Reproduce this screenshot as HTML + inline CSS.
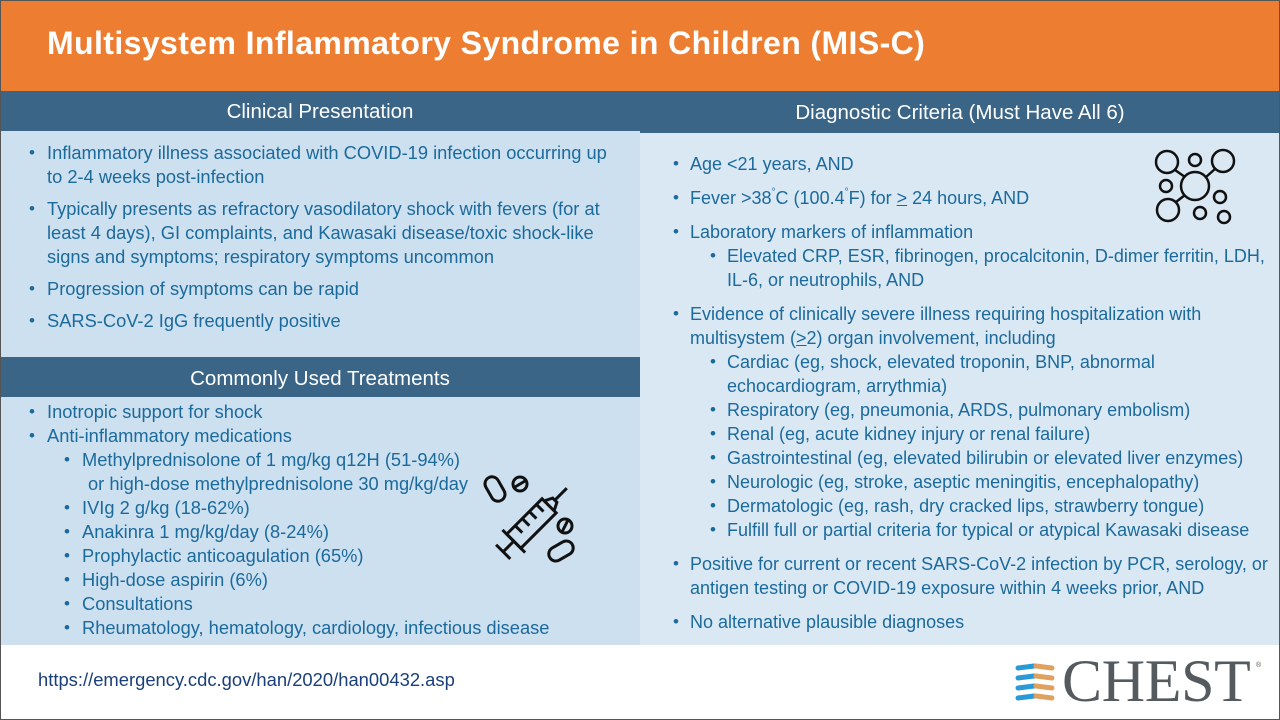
<!DOCTYPE html>
<html><head><meta charset="utf-8"><style>
*{margin:0;padding:0;box-sizing:border-box}
body{width:1280px;height:720px;position:relative;overflow:hidden;background:#fff;font-family:"Liberation Sans",sans-serif}
.a{position:absolute}
.l{position:absolute;white-space:nowrap;font-size:18.3px;line-height:24px;color:#1b6a9c}
.r{font-size:18px}
.b{position:absolute;font-size:17px;line-height:24px;color:#1b6a9c}
.h{position:absolute;color:#fff;font-size:20.5px;text-align:center;line-height:40px}
sup{font-size:10px;vertical-align:top;line-height:14px}
</style></head><body>
<div class="a" style="left:0;top:0;width:1280px;height:91px;background:#ed7d31"></div>
<div class="a" style="left:47px;top:25px;color:#fff;font-size:32px;font-weight:bold;white-space:nowrap;letter-spacing:0.4px">Multisystem Inflammatory Syndrome in Children (MIS-C)</div>
<div class="a" style="left:0;top:91px;width:640px;height:40px;background:#3a6587"></div>
<div class="h" style="left:0;top:92px;width:640px">Clinical Presentation</div>
<div class="a" style="left:640px;top:91px;width:640px;height:42px;background:#3a6587"></div>
<div class="h" style="left:640px;top:93px;width:640px">Diagnostic Criteria (Must Have All 6)</div>
<div class="a" style="left:0;top:131px;width:640px;height:226px;background:#cde0f0"></div>
<div class="a" style="left:0;top:357px;width:640px;height:40px;background:#3a6587"></div>
<div class="h" style="left:0;top:359px;width:640px">Commonly Used Treatments</div>
<div class="a" style="left:0;top:397px;width:640px;height:248px;background:#cde0f0"></div>
<div class="a" style="left:640px;top:133px;width:640px;height:512px;background:#dae8f4"></div>

<div class="b" style="left:29px;top:141px">•</div><div class="l" style="left:47px;top:141px">Inflammatory illness associated with COVID-19 infection occurring up</div>
<div class="l" style="left:47px;top:165px">to 2-4 weeks post-infection</div>
<div class="b" style="left:29px;top:197px">•</div><div class="l" style="left:47px;top:197px">Typically presents as refractory vasodilatory shock with fevers (for at</div>
<div class="l" style="left:47px;top:221px">least 4 days), GI complaints, and Kawasaki disease/toxic shock-like</div>
<div class="l" style="left:47px;top:245px">signs and symptoms; respiratory symptoms uncommon</div>
<div class="b" style="left:29px;top:277px">•</div><div class="l" style="left:47px;top:277px">Progression of symptoms can be rapid</div>
<div class="b" style="left:29px;top:309px">•</div><div class="l" style="left:47px;top:309px">SARS-CoV-2 IgG frequently positive</div>

<div class="b" style="left:29px;top:400px">•</div><div class="l" style="left:47px;top:400px">Inotropic support for shock</div>
<div class="b" style="left:29px;top:424px">•</div><div class="l" style="left:47px;top:424px">Anti-inflammatory medications</div>
<div class="b" style="left:64px;top:448px">•</div><div class="l" style="left:82px;top:448px">Methylprednisolone of 1 mg/kg q12H (51-94%)</div>
<div class="l" style="left:88px;top:472px">or high-dose methylprednisolone 30 mg/kg/day</div>
<div class="b" style="left:64px;top:496px">•</div><div class="l" style="left:82px;top:496px">IVIg 2 g/kg (18-62%)</div>
<div class="b" style="left:64px;top:520px">•</div><div class="l" style="left:82px;top:520px">Anakinra 1 mg/kg/day (8-24%)</div>
<div class="b" style="left:64px;top:544px">•</div><div class="l" style="left:82px;top:544px">Prophylactic anticoagulation (65%)</div>
<div class="b" style="left:64px;top:568px">•</div><div class="l" style="left:82px;top:568px">High-dose aspirin (6%)</div>
<div class="b" style="left:64px;top:592px">•</div><div class="l" style="left:82px;top:592px">Consultations</div>
<div class="b" style="left:64px;top:616px">•</div><div class="l" style="left:82px;top:616px">Rheumatology, hematology, cardiology, infectious disease</div>

<svg class="a" style="left:480px;top:470px" width="110" height="100" viewBox="0 0 110 100" fill="none" stroke="#111" stroke-width="3">
<g transform="translate(55,50) rotate(-45)">
<rect x="-30" y="-10" width="50" height="20"/>
<line x1="-30" y1="-16" x2="-30" y2="16"/>
<line x1="-45" y1="0" x2="-30" y2="0"/>
<line x1="-45" y1="-10" x2="-45" y2="10"/>
<path d="M20 -7 L28 -3 L28 3 L20 7"/>
<line x1="28" y1="0" x2="45" y2="0"/>
<line x1="-18" y1="-10" x2="-18" y2="0"/><line x1="-8" y1="-10" x2="-8" y2="0"/><line x1="2" y1="-10" x2="2" y2="0"/><line x1="12" y1="-10" x2="12" y2="0"/>
</g>
<rect x="8" y="6" width="14" height="26" rx="7" transform="rotate(-30 15 19)"/>
<circle cx="40" cy="14" r="7"/><line x1="35" y1="17" x2="45" y2="11"/>
<circle cx="85" cy="56" r="7"/><line x1="82" y1="62" x2="88" y2="50"/>
<rect x="74" y="68" width="14" height="26" rx="7" transform="rotate(60 81 81)"/>
</svg>

<div class="b" style="left:673px;top:152px">•</div><div class="l r" style="left:690px;top:152px">Age &lt;21 years, AND</div>
<div class="b" style="left:673px;top:186px">•</div><div class="l r" style="left:690px;top:186px">Fever &gt;38<sup>°</sup>C (100.4<sup>°</sup>F) for <u>&gt;</u> 24 hours, AND</div>
<div class="b" style="left:673px;top:220px">•</div><div class="l r" style="left:690px;top:220px">Laboratory markers of inflammation</div>
<div class="b" style="left:710px;top:244px">•</div><div class="l r" style="left:727px;top:244px">Elevated CRP, ESR, fibrinogen, procalcitonin, D-dimer ferritin, LDH,</div>
<div class="l r" style="left:727px;top:268px">IL-6, or neutrophils, AND</div>
<div class="b" style="left:673px;top:302px">•</div><div class="l r" style="left:690px;top:302px">Evidence of clinically severe illness requiring hospitalization with</div>
<div class="l r" style="left:690px;top:326px">multisystem (<u>&gt;</u>2) organ involvement, including</div>
<div class="b" style="left:710px;top:350px">•</div><div class="l r" style="left:727px;top:350px">Cardiac (eg, shock, elevated troponin, BNP, abnormal</div>
<div class="l r" style="left:727px;top:374px">echocardiogram, arrythmia)</div>
<div class="b" style="left:710px;top:398px">•</div><div class="l r" style="left:727px;top:398px">Respiratory (eg, pneumonia, ARDS, pulmonary embolism)</div>
<div class="b" style="left:710px;top:422px">•</div><div class="l r" style="left:727px;top:422px">Renal (eg, acute kidney injury or renal failure)</div>
<div class="b" style="left:710px;top:446px">•</div><div class="l r" style="left:727px;top:446px">Gastrointestinal (eg, elevated bilirubin or elevated liver enzymes)</div>
<div class="b" style="left:710px;top:470px">•</div><div class="l r" style="left:727px;top:470px">Neurologic (eg, stroke, aseptic meningitis, encephalopathy)</div>
<div class="b" style="left:710px;top:494px">•</div><div class="l r" style="left:727px;top:494px">Dermatologic (eg, rash, dry cracked lips, strawberry tongue)</div>
<div class="b" style="left:710px;top:518px">•</div><div class="l r" style="left:727px;top:518px">Fulfill full or partial criteria for typical or atypical Kawasaki disease</div>
<div class="b" style="left:673px;top:552px">•</div><div class="l r" style="left:690px;top:552px">Positive for current or recent SARS-CoV-2 infection by PCR, serology, or</div>
<div class="l r" style="left:690px;top:576px">antigen testing or COVID-19 exposure within 4 weeks prior, AND</div>
<div class="b" style="left:673px;top:610px">•</div><div class="l r" style="left:690px;top:610px">No alternative plausible diagnoses</div>

<svg class="a" style="left:1150px;top:145px" width="90" height="85" viewBox="0 0 90 85" fill="none" stroke="#111" stroke-width="2.5">
<circle cx="45" cy="41" r="14"/>
<circle cx="17" cy="17" r="11"/><circle cx="73" cy="16" r="11"/><circle cx="18" cy="65" r="11"/>
<circle cx="45" cy="15" r="6"/><circle cx="16" cy="41" r="6"/><circle cx="70" cy="52" r="6"/><circle cx="50" cy="68" r="6"/><circle cx="74" cy="72" r="6"/>
<line x1="25" y1="25" x2="35" y2="32"/><line x1="65" y1="24" x2="56" y2="32"/><line x1="26" y1="57" x2="35" y2="50"/>
</svg>

<div class="a" style="left:38px;top:669px;font-size:18.4px;color:#1a3f7a;white-space:nowrap">https://emergency.cdc.gov/han/2020/han00432.asp</div>
<svg class="a" style="left:1014px;top:662px" width="44" height="44" viewBox="0 0 44 44">
<g stroke-width="5" fill="none" stroke-linecap="round">
<path d="M4 6 L20 4" stroke="#2a9ad6"/><path d="M22 4 L38 6" stroke="#e0a060"/>
<path d="M4 16 L20 14" stroke="#2a9ad6"/><path d="M22 14 L38 16" stroke="#e0a060"/>
<path d="M4 26 L20 24" stroke="#2a9ad6"/><path d="M22 24 L38 26" stroke="#e0a060"/>
<path d="M4 36 L20 34" stroke="#2a9ad6"/><path d="M22 34 L38 36" stroke="#e0a060"/>
</g></svg>
<div class="a" style="left:1062px;top:646px;font-family:'Liberation Serif',serif;font-size:60px;line-height:70px;color:#555a5e;letter-spacing:-0.3px">CHEST</div>
<div class="a" style="left:1256px;top:662px;font-size:7px;color:#555">®</div>
<div class="a" style="left:0;top:0;width:1280px;height:720px;border:1px solid #555"></div>
</body></html>
